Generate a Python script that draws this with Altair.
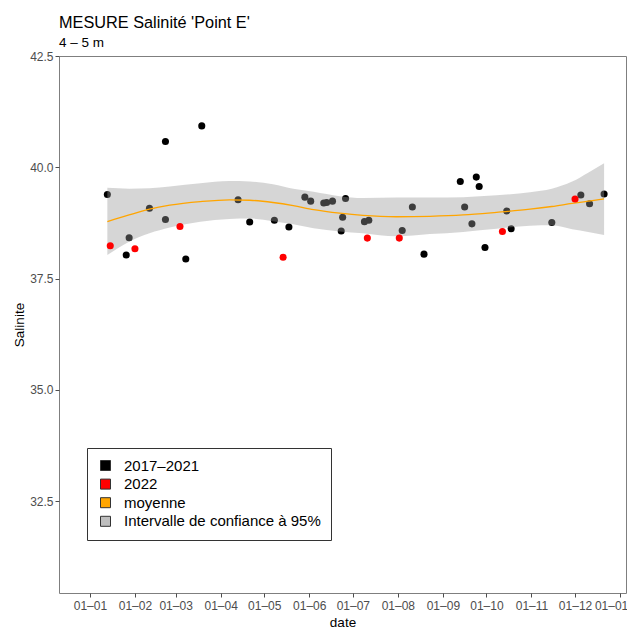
import altair as alt
import pandas as pd

YEAR = "2022"

# 2017-2021 measurements (day-month, salinity)
hist_dates = ["01-13", "02-22", "03-19", "02-11", "02-22", "01-28", "01-26", "03-08",
              "04-13", "04-21", "05-08", "05-18", "05-29", "06-02", "06-11", "06-13",
              "06-17", "06-26", "06-24", "06-23", "07-09", "07-12", "08-11", "08-04",
              "08-19", "09-13", "09-24", "09-26", "09-16", "09-21", "09-30", "10-15",
              "10-18", "11-15", "12-05", "12-11", "12-21"]
hist_sal = [39.39, 40.58, 40.93, 39.08, 38.83, 38.42, 38.03, 37.94,
            39.27, 38.77, 38.81, 38.66, 39.33, 39.24, 39.20, 39.21,
            39.24, 39.30, 38.88, 38.57, 38.78, 38.81, 39.11, 38.58,
            38.05, 39.68, 39.78, 39.57, 39.11, 38.73, 38.20, 39.02,
            38.62, 38.76, 39.38, 39.18, 39.40]

# 2022 measurements
y2022_dates = ["01-15", "02-01", "03-04", "05-14", "07-11", "08-02", "10-12", "12-01"]
y2022_sal = [38.24, 38.17, 38.67, 37.98, 38.41, 38.41, 38.56, 39.29]

# smoothed mean and 95% confidence interval
smooth_dates = ["01-13", "01-28", "02-11", "02-25", "03-18", "04-07", "04-21", "05-07",
                "05-21", "06-04", "06-22", "07-08", "07-31", "08-23", "09-15", "10-08",
                "10-31", "11-15", "11-29", "12-10", "12-21"]
smooth_fit = [38.78, 38.93, 39.06, 39.15, 39.23, 39.27, 39.26, 39.21,
              39.14, 39.05, 38.97, 38.92, 38.89, 38.90, 38.93, 38.99,
              39.06, 39.12, 39.19, 39.24, 39.29]
smooth_lo = [38.03, 38.33, 38.52, 38.65, 38.78, 38.84, 38.85, 38.79,
             38.72, 38.63, 38.56, 38.52, 38.45, 38.50, 38.55, 38.62,
             38.69, 38.70, 38.61, 38.55, 38.48]
smooth_hi = [39.54, 39.52, 39.53, 39.57, 39.64, 39.69, 39.68, 39.62,
             39.52, 39.45, 39.35, 39.31, 39.32, 39.32, 39.33, 39.37,
             39.44, 39.52, 39.68, 39.88, 40.09]

legend_labels = ["2017–2021", "2022", "moyenne", "Intervalle de confiance à 95%"]
legend_colors = ["#000000", "#FF0000", "#FFA500", "#BEBEBE"]
y_ticks = [32.5, 35.0, 37.5, 40.0, 42.5]

FONT = "Liberation Sans"

pts = pd.DataFrame({
    "date": [f"{YEAR}-{d}" for d in hist_dates] + [f"{YEAR}-{d}" for d in y2022_dates],
    "sal": hist_sal + y2022_sal,
    "groupe": [legend_labels[0]] * len(hist_dates) + [legend_labels[1]] * len(y2022_dates),
})
smooth = pd.DataFrame({
    "date": [f"{YEAR}-{d}" for d in smooth_dates],
    "fit": smooth_fit,
    "lo": smooth_lo,
    "hi": smooth_hi,
})

x_scale = alt.Scale(
    type="utc",
    domain=[alt.DateTime(year=2021, month=12, date=10, hours=17, utc=True),
            alt.DateTime(year=2023, month=1, date=5, hours=2, utc=True)],
)
month_ticks = [alt.DateTime(year=2022, month=m, date=1, utc=True) for m in range(1, 13)] + \
              [alt.DateTime(year=2023, month=1, date=1, utc=True)]
x_axis = alt.Axis(
    values=month_ticks, format="%d–%m", title="date",
    labelPadding=3, titlePadding=4, labelFlush=False, labelOverlap=False,
    labelOffset={"condition": {"test": "datum.value > utc(2022, 11, 20)", "value": -9},
                 "value": 0},
)
x_enc = alt.X("date:T", scale=x_scale, axis=x_axis)

y_scale = alt.Scale(domain=[30.44, 42.5], nice=False, zero=False)
y_axis = alt.Axis(values=y_ticks, format=".1f", title="Salinite", titlePadding=3,
                  labelFlush=False)

color_scale = alt.Scale(domain=legend_labels, range=legend_colors)
legend = alt.Legend(
    title=None, orient="none", legendX=28, legendY=392,
    symbolType="square", symbolSize=100, symbolStrokeColor="#333333",
    symbolStrokeWidth=1, symbolOffset=1, labelFont=FONT, labelFontSize=15,
    labelColor="black", labelLimit=400,
    labelOffset=11, rowPadding=2.6, padding=10, strokeColor="#333333",
    fillColor="white", cornerRadius=0,
)
color_enc = alt.Color("groupe:N", scale=color_scale, legend=legend)

base_pts = alt.Chart(pts)
hist_layer = base_pts.transform_filter(
    alt.datum.groupe == legend_labels[0]
).mark_circle(size=50, opacity=1).encode(
    x=x_enc, y=alt.Y("sal:Q", scale=y_scale, axis=y_axis), color=color_enc
)
red_layer = base_pts.transform_filter(
    alt.datum.groupe == legend_labels[1]
).mark_circle(size=50, opacity=1).encode(
    x=x_enc, y=alt.Y("sal:Q", scale=y_scale, axis=y_axis), color=color_enc
)

band = alt.Chart(smooth).mark_area(color="#999999", opacity=0.4, interpolate="monotone").encode(
    x=x_enc, y=alt.Y("lo:Q", scale=y_scale, axis=y_axis), y2="hi:Q"
)
line = alt.Chart(smooth).mark_line(color="#FFA500", strokeWidth=1.3, interpolate="monotone").encode(
    x=x_enc, y=alt.Y("fit:Q", scale=y_scale, axis=y_axis)
)

chart = alt.layer(hist_layer, band, line, red_layer).properties(
    width=567,
    height=537,
    autosize=alt.AutoSizeParams(type="none"),
    padding={"left": 51, "top": 48, "right": 1, "bottom": 35},
    title=alt.TitleParams(
        text="MESURE Salinité 'Point E'",
        subtitle="4 – 5 m",
        anchor="start",
        frame="group",
        font=FONT,
        fontSize=16.3,
        fontWeight="normal",
        color="black",
        subtitleFont=FONT,
        subtitleFontSize=13.5,
        subtitleColor="black",
        subtitlePadding=4,
        offset=1,
    ),
).configure_view(
    stroke="#7F7F7F", strokeWidth=1
).configure_axis(
    domain=False, grid=False,
    labelFont=FONT, labelFontSize=12, labelColor="#4D4D4D", labelPadding=2,
    tickColor="#4D4D4D", tickSize=4,
    titleFont=FONT, titleFontSize=13.5, titleFontWeight="normal", titleColor="black",
)

chart.save("out.html", embed_options={"renderer": "svg", "actions": False})
